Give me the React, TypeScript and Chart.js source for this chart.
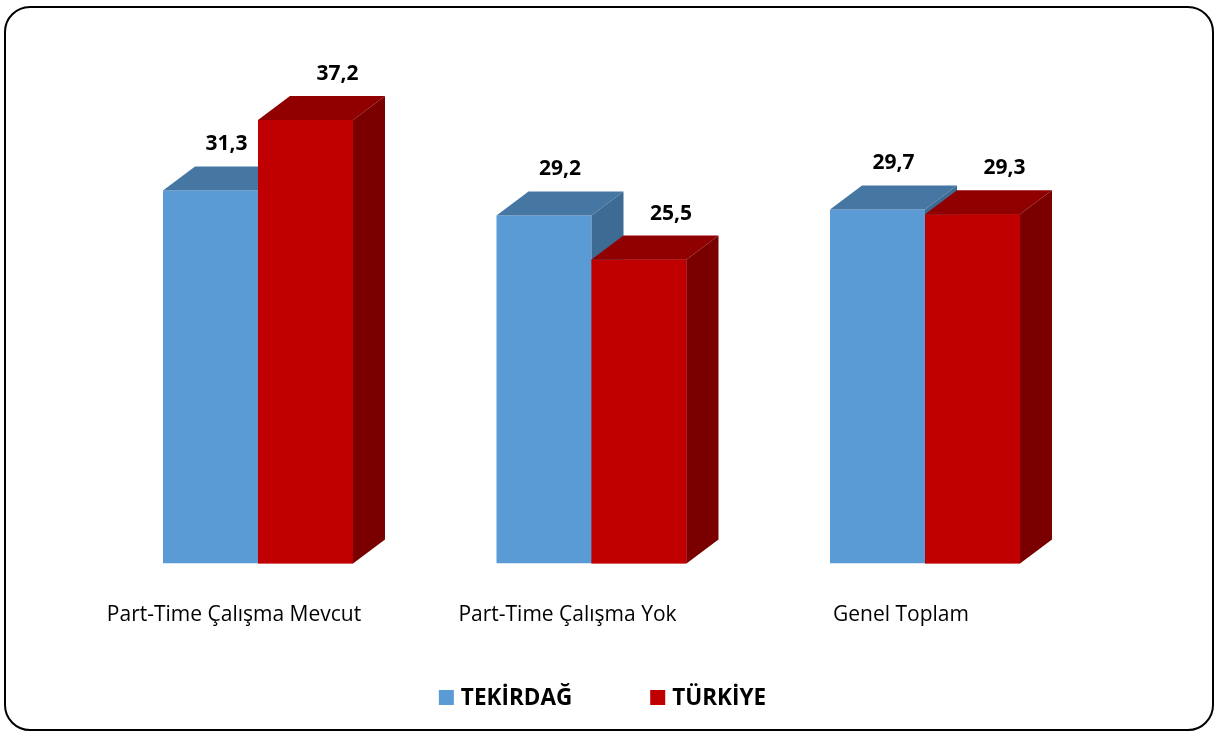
import React, { useEffect, useRef } from "react";
import { Chart, registerables } from "chart.js";

Chart.register(...registerables);

const categories = ["Part-Time Çalışma Mevcut", "Part-Time Çalışma Yok", "Genel Toplam"];
const seriesNames = ["TEKİRDAĞ", "TÜRKİYE"];
const tekirdag = [31.3, 29.2, 29.7];
const turkiye = [37.2, 25.5, 29.3];

const FRONT = ["#5B9BD5", "#C00000"];
const TOP = ["#4677A3", "#900000"];
const SIDE = ["#3E6B93", "#7A0000"];
const DX = 32;
const DY = 24;
const FONT = "'Open Sans', 'Noto Sans', sans-serif";

const fmt = (v: number) => v.toFixed(1).replace(".", ",");

function drawFaces(ctx: any, el: any, i: number) {
  const { x, y, base, width } = el.getProps(["x", "y", "base", "width"], true);
  const l = x - width / 2;
  const r = x + width / 2;
  ctx.fillStyle = TOP[i];
  ctx.beginPath();
  ctx.moveTo(l, y);
  ctx.lineTo(l + DX, y - DY);
  ctx.lineTo(r + DX, y - DY);
  ctx.lineTo(r, y);
  ctx.closePath();
  ctx.fill();
  ctx.fillStyle = SIDE[i];
  ctx.beginPath();
  ctx.moveTo(r, y);
  ctx.lineTo(r + DX, y - DY);
  ctx.lineTo(r + DX, base - DY);
  ctx.lineTo(r, base);
  ctx.closePath();
  ctx.fill();
}

const threeD = {
  id: "threeD",
  beforeDraw(chart: any) {
    const ctx = chart.ctx;
    ctx.save();
    ctx.fillStyle = "#ffffff";
    ctx.fillRect(0, 0, chart.width, chart.height);
    ctx.restore();
  },
  afterDatasetsDraw(chart: any) {
    const ctx = chart.ctx;
    const n = chart.data.datasets.length;
    // paint datasets left-to-right: front (library element), then top & side
    for (let i = 0; i < n; i++) {
      const meta = chart.getDatasetMeta(i);
      meta.data.forEach((el: any) => {
        ctx.save();
        if (i > 0) el.draw(ctx);
        drawFaces(ctx, el, i);
        ctx.restore();
      });
    }
  },
  afterDraw(chart: any) {
    const ctx = chart.ctx;
    ctx.save();
    // value labels
    ctx.fillStyle = "#000000";
    ctx.font = `bold 21px ${FONT}`;
    ctx.textAlign = "center";
    ctx.textBaseline = "alphabetic";
    chart.data.datasets.forEach((ds: any, i: number) => {
      const meta = chart.getDatasetMeta(i);
      meta.data.forEach((el: any, j: number) => {
        const { x, y } = el.getProps(["x", "y"], true);
        ctx.fillText(fmt(ds.data[j]), x + DX * (0.5 + 0.5 * i), y - 40);
      });
    });
    // category labels
    const xs = chart.scales.x;
    ctx.font = `21px ${FONT}`;
    chart.data.labels.forEach((lab: string, j: number) => {
      ctx.fillText(lab, xs.getPixelForTick(j) - DX * 0.75, 621);
    });
    // legend
    ctx.font = `bold 22.5px ${FONT}`;
    ctx.textAlign = "left";
    const box = 15;
    const gap = 7;
    const spacing = 78;
    const w = chart.data.datasets.map((ds: any) => box + gap + ctx.measureText(ds.label).width);
    const total = w.reduce((a: number, b: number) => a + b, 0) + spacing;
    let cx = chart.width / 2 - 5 - total / 2;
    chart.data.datasets.forEach((ds: any, i: number) => {
      ctx.fillStyle = FRONT[i];
      ctx.fillRect(cx, 690, box, box);
      ctx.fillStyle = "#000000";
      ctx.fillText(ds.label, cx + box + gap, 705);
      cx += w[i] + spacing;
    });
    // rounded border
    ctx.strokeStyle = "#000000";
    ctx.lineWidth = 2;
    ctx.beginPath();
    ctx.roundRect(5, 7, 1208, 723, 25);
    ctx.stroke();
    ctx.restore();
  },
};

export default function App() {
  const ref = useRef<HTMLCanvasElement>(null);
  useEffect(() => {
    document.body.style.margin = "0";
    if (!ref.current) return;
    const chart = new Chart(ref.current, {
      type: "bar",
      data: {
        labels: categories,
        datasets: [
          { label: seriesNames[0], data: tekirdag, backgroundColor: FRONT[0] },
          { label: seriesNames[1], data: turkiye, backgroundColor: FRONT[1] },
        ],
      },
      options: {
        responsive: false,
        animation: false,
        devicePixelRatio: 1,
        layout: { padding: { top: 86.7, bottom: 167.5, left: 91.25, right: 123.25 } },
        datasets: { bar: { categoryPercentage: 0.5697, barPercentage: 1, borderWidth: 0 } },
        scales: {
          x: { display: false, grid: { display: false } },
          y: { display: false, min: 0, max: 40, grid: { display: false } },
        },
        plugins: { legend: { display: false }, tooltip: { enabled: false } },
      },
      plugins: [threeD],
    });
    return () => chart.destroy();
  }, []);
  return (
    <div style={{ width: 1215, height: 731 }}>
      <canvas ref={ref} width={1215} height={731} style={{ display: "block" }} />
    </div>
  );
}
